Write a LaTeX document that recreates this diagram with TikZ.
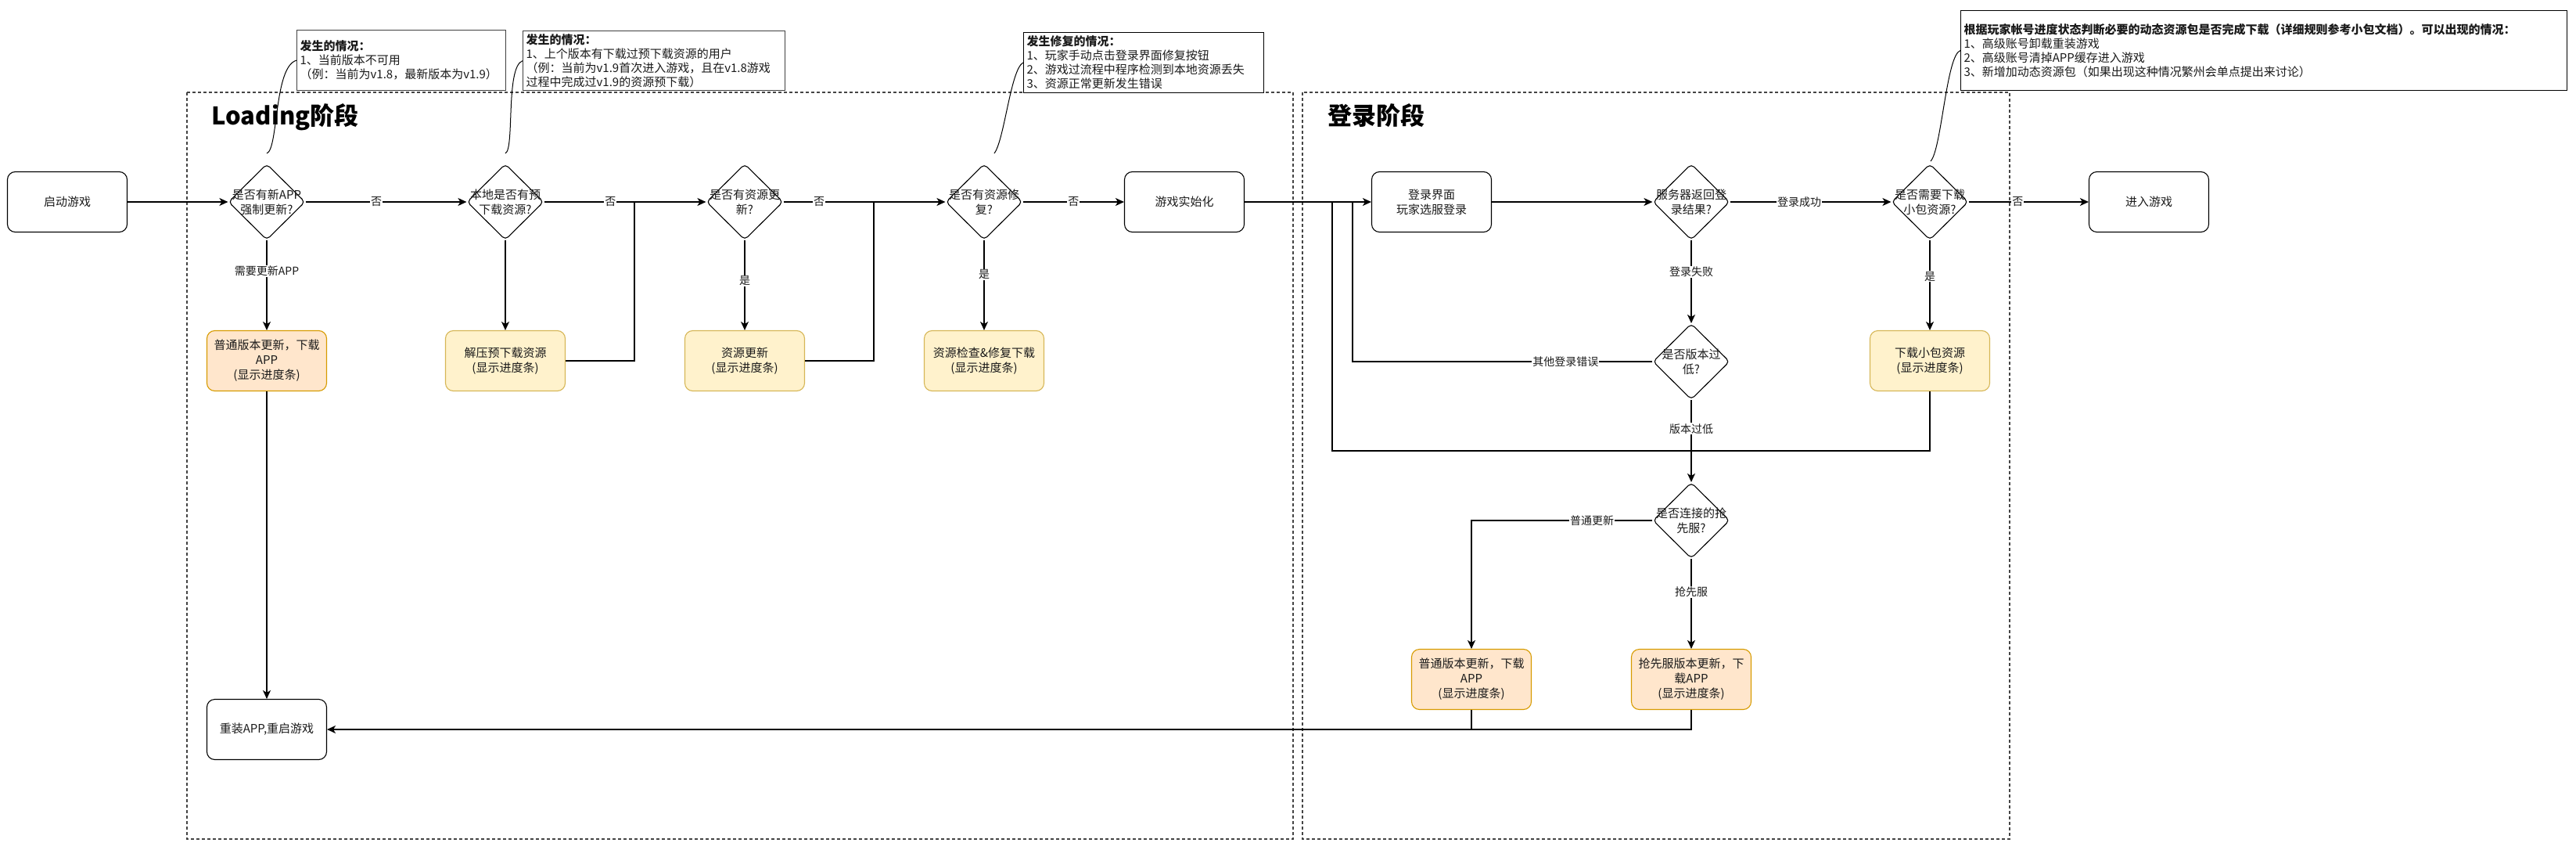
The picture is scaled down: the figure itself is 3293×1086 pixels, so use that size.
\documentclass[tikz,border=0pt]{standalone}
\usepackage{fontspec}
\setmainfont{Noto Sans CJK SC}
\usepackage{tikz}
\usetikzlibrary{arrows.meta,calc,positioning,shapes.geometric}
\definecolor{ink}{HTML}{1A1A1A}
\definecolor{frame}{HTML}{444444}
\definecolor{orangefill}{HTML}{FFE6CC}
\definecolor{orangeline}{HTML}{D79B00}
\definecolor{yellowfill}{HTML}{FFF2CC}
\definecolor{yellowline}{HTML}{D6B656}
\tikzset{proc/.style={draw=black,line width=1.1pt,rounded corners=10pt,minimum width=153pt,minimum height=77pt,inner sep=2pt,align=center,text=ink,font=\fontsize{15}{19}\selectfont},orangebox/.style={proc,draw=orangeline,fill=orangefill},yellowbox/.style={proc,draw=yellowline,fill=yellowfill},decide/.style={diamond,draw=black,line width=1.1pt,rounded corners=5pt,minimum width=98pt,minimum height=97pt,inner sep=0pt},dtext/.style={align=center,text=ink,font=\fontsize{15}{19}\selectfont},note/.style={draw=black!75,fill=white,line width=1.3pt,anchor=north west,align=left,inner xsep=4pt,inner ysep=2pt,text=ink,font=\fontsize{15}{18}\selectfont},link/.style={draw=black,line width=1.1pt},flow/.style={link,-{Stealth[length=11pt,width=10pt,inset=3pt]}},lbl/.style={fill=white,inner sep=1pt,text=ink,font=\fontsize{14}{16}\selectfont},phase/.style={draw=frame,line width=1.1pt,dash pattern=on 4pt off 3pt},title/.style={anchor=base west,font=\fontsize{31}{36}\selectfont\bfseries}}

\begin{document}
\begin{tikzpicture}[x=1pt,y=-1pt]
 \useasboundingbox (0,0) rectangle (3293,1086);
 \draw[phase] (239,118) rectangle (1653,1072); \draw[phase] (1665,118) rectangle (2569,1072);
 \node[title] (tload) at (267,160) {Loading阶段}; \node[title] (tlogin) at (1694,160) {登录阶段};
 \node[note,text width=259pt,minimum height=77pt] (c1) at (379,38) {\textbf{发生的情况：}\\1、当前版本不可用\\（例：当前为v1.8，最新版本为v1.9）};
 \node[note,text width=327pt,minimum height=76pt] (c2) at (668,39) {\textbf{发生的情况：}\\1、上个版本有下载过预下载资源的用户\\（例：当前为v1.9首次进入游戏，且在v1.8游戏\\过程中完成过v1.9的资源预下载）};
 \node[note,draw=black,line width=1pt,text width=299pt,minimum height=77pt] (c3) at (1308,41) {\textbf{发生修复的情况：}\\1、玩家手动点击登录界面修复按钮\\2、游戏过流程中程序检测到本地资源丢失\\3、资源正常更新发生错误};
 \node[note,draw=black,line width=1pt,text width=767pt,minimum height=102pt] (c4) at (2506,13) {\textbf{根据玩家帐号进度状态判断必要的动态资源包是否完成下载（详细规则参考小包文档）。可以出现的情况：}\\1、高级账号卸载重装游戏\\2、高级账号清掉APP缓存进入游戏\\3、新增加动态资源包（如果出现这种情况繁州会单点提出来讨论）};
 \node[proc] (start) at (86,258) {启动游戏}; \node[proc] (init) at (1514,258) {游戏实始化};
 \node[proc] (login) at (1830,258) {登录界面\\玩家选服登录}; \node[proc] (enter) at (2747,258) {进入游戏};
 \node[proc] (reinst) at (341,932) {重装APP,重启游戏};
 \foreach \n/\x/\y/\t in {d1/341/258/{是否有新APP\\强制更新?},d2/646/258/{本地是否有预\\下载资源?},d3/952/258/{是否有资源更\\新?},d4/1258/258/{是否有资源修\\复?},d5/2162/258/{服务器返回登\\录结果?},pack/2467/258/{是否需要下载\\小包资源?},low/2162/462/{是否版本过\\低?},early/2162/665/{是否连接的抢\\先服?}}{\node[decide,label={[dtext]center:\t}] (\n) at (\x,\y) {};}
 \foreach \n/\x/\t in {unzip/646/{解压预下载资源\\(显示进度条)},resupd/952/{资源更新\\(显示进度条)},repair/1258/{资源检查\&修复下载\\(显示进度条)},small/2467/{下载小包资源\\(显示进度条)}}{\node[yellowbox] (\n) at (\x,461) {\t};}
 \node[orangebox] (app1) at (341,461) {普通版本更新，下载\\APP\\(显示进度条)};
 \node[orangebox] (app2) at (1881,868) {普通版本更新，下载\\APP\\(显示进度条)};
 \node[orangebox] (app3) at (2162,868) {抢先服版本更新，下\\载APP\\(显示进度条)};
 \coordinate (j1) at (811,258); \coordinate (j2) at (1117,258); \coordinate (j3) at (1729,258); \coordinate (j4) at (1703,258); \coordinate (j4b) at (1703,576);
 \draw[link] (unzip.east) -| (j1); \draw[link] (resupd.east) -| (j2);
 \draw[link] (low.west) -| node[lbl,pos=.145] {其他登录错误} (j3); \draw[link] (small.south) |- (j4b) -- (j4);
 \draw[flow] (start) -- (d1); \draw[flow] (d1) -- node[lbl,pos=.44] {否} (d2); \draw[flow] (d2) -- node[lbl,pos=.41] {否} (d3);
 \draw[flow] (d3) -- node[lbl,pos=.22] {否} (d4); \draw[flow] (d4) -- node[lbl] {否} (init); \draw[flow] (init) -- (login);
 \draw[flow] (login) -- (d5); \draw[flow] (d5) -- node[lbl,pos=.43] {登录成功} (pack); \draw[flow] (pack) -- node[lbl,pos=.41] {否} (enter);
 \draw[flow] (d1) -- node[lbl,pos=.34] {需要更新APP} (app1); \draw[flow] (d2) -- (unzip);
 \draw[flow] (d3) -- node[lbl,pos=.45] {是} (resupd); \draw[flow] (d4) -- node[lbl,pos=.38] {是} (repair);
 \draw[flow] (pack) -- node[lbl,pos=.4] {是} (small); \draw[flow] (d5) -- node[lbl,pos=.38] {登录失败} (low);
 \draw[flow] (low) -- node[lbl,pos=.35] {版本过低} (early); \draw[flow] (early) -- node[lbl,pos=.37] {抢先服} (app3);
 \draw[flow] (early.west) -| node[lbl,pos=.167] {普通更新} (app2.north); \draw[flow] (app1) -- (reinst);
 \draw[link] (app2.south) -- (app2.south |- reinst.east); \draw[flow] (app3.south) |- (reinst.east);
 \draw[link,line width=1pt] ($(d1.north)+(0,-13)$) .. controls +(15,-5) and +(-29,8) .. (c1.west);
 \draw[link,line width=1pt] ($(d2.north)+(0,-13)$) .. controls +(12,-5) and +(-22,8) .. (c2.west);
 \draw[link,line width=1pt] ($(d4.north)+(13,-13)$) .. controls +(13,-17) and +(-16,8) .. (c3.west);
 \draw[link,line width=1pt] ($(pack.north)+(1,-3)$) .. controls +(14,-15) and +(-18,6) .. (c4.west);
\end{tikzpicture}
\end{document}
